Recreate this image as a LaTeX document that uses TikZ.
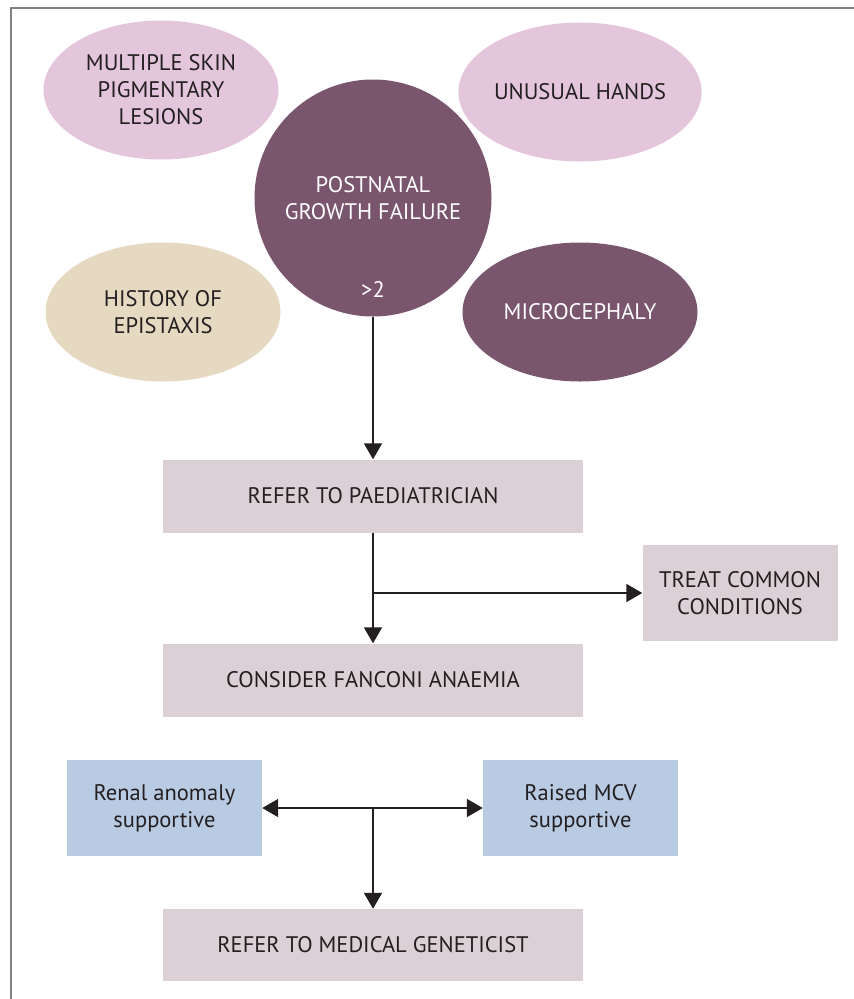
\documentclass[tikz,border=0pt]{standalone}
\usepackage{fontspec}
\setmainfont{PT Sans}
\usepackage{tikz}
\usetikzlibrary{shapes.geometric,arrows.meta}
\definecolor{lilac}{HTML}{E3C6DC}
\definecolor{plum}{HTML}{7A566E}
\definecolor{sand}{HTML}{E5D9C1}
\definecolor{mauve}{HTML}{DBD0D6}
\definecolor{pale}{HTML}{B9CAE3}
\definecolor{ink}{HTML}{231F20}
\tikzset{
	blob/.style={ellipse,inner sep=0pt,minimum width=235pt,minimum height=139pt,align=center,text=ink},
	stepbox/.style={rectangle,fill=mauve,inner sep=0pt,minimum width=420pt,minimum height=73pt,align=center,text=ink},
	sidebox/.style={rectangle,inner sep=0pt,minimum width=195pt,minimum height=96pt,align=center,text=ink},
	arr/.style={line width=1.6pt,ink,-{Triangle[length=16pt,width=18pt]}},
}
\begin{document}
\begin{tikzpicture}[x=1pt,y=-1pt,font=\fontsize{22.5}{27}\selectfont]
	\useasboundingbox(0,0)rectangle(854,999);
	\draw[gray,line width=2pt](11,999)--(11,7.5)--(854,7.5);
	\node[blob,fill=lilac](skin)at(161,90){MULTIPLE SKIN\\PIGMENTARY\\LESIONS};
	\node[blob,fill=lilac](hands)at(580,92){UNUSUAL HANDS};
	\node[blob,fill=sand](epi)at(163,312){HISTORY OF\\EPISTAXIS};
	\node[blob,fill=plum,text=white](micro)at(580,312){MICROCEPHALY};
	\node[circle,fill=plum,inner sep=0pt,minimum size=237pt,align=center,text=white](post)at(373,198){POSTNATAL\\GROWTH FAILURE};
	\node[text=white](gt)at(373,289){>2};
	\node[stepbox](ref)at(373,496){REFER TO PAEDIATRICIAN};
	\node[sidebox,fill=mauve](treat)at(740,593){TREAT COMMON\\CONDITIONS};
	\node[stepbox](fan)at(373,680){CONSIDER FANCONI ANAEMIA};
	\node[sidebox,fill=pale](renal)at(164.5,808){Renal anomaly\\supportive};
	\node[sidebox,fill=pale](mcv)at(580.5,808){Raised MCV\\supportive};
	\node[stepbox,minimum height=72pt](gen)at(373,945){REFER TO MEDICAL GENETICIST};
	\coordinate(fork)at(ref.south|-treat.west);
	\coordinate(tee)at(gen.north|-renal.east);
	\draw[arr](post)--(ref);
	\draw[arr](ref)--(fan);
	\draw[arr](fork)--(treat);
	\draw[arr,{Triangle[length=16pt,width=18pt]}-{Triangle[length=16pt,width=18pt]}](renal)--(mcv);
	\draw[arr](tee)--(gen);
\end{tikzpicture}
\end{document}
